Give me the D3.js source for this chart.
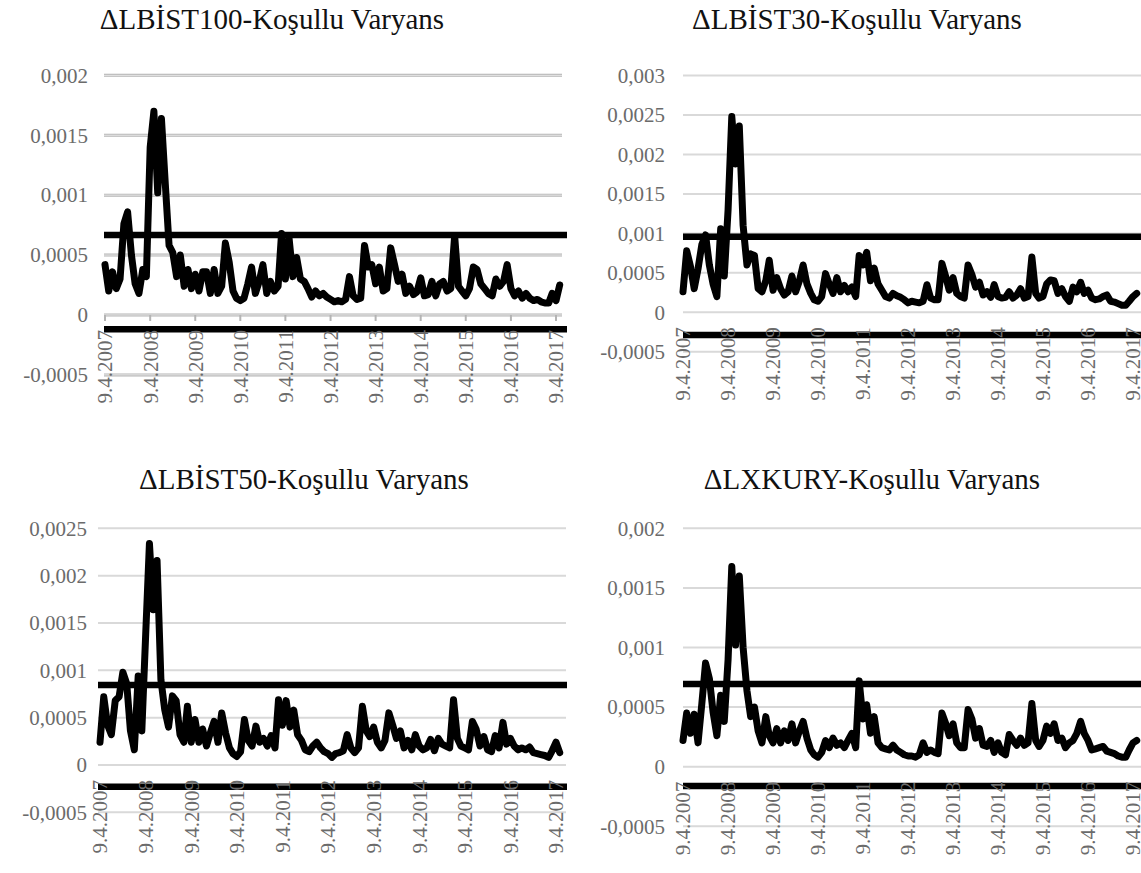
<!DOCTYPE html>
<html>
<head>
<meta charset="utf-8">
<script src="https://cdn.jsdelivr.net/npm/d3@7"></script>
<style>
  html, body { margin: 0; padding: 0; background: #fff; }
  svg { display: block; }
</style>
</head>
<body>
<svg id="chart" width="1141" height="873"></svg>
<script>
'use strict';

// ── data (values in units of 1e-4, one point per month from 9.4.2007) ──
const UNIT = 1e-4;
const START = new Date(2007, 3, 9);

const TICK_YEARS = [2007, 2008, 2009, 2010, 2011, 2012, 2013, 2014, 2015, 2016, 2017];
const TICK_LABELS = ['9.4.2007', '9.4.2008', '9.4.2009', '9.4.2010', '9.4.2011', '9.4.2012',
  '9.4.2013', '9.4.2014', '9.4.2015', '9.4.2016', '9.4.2017'];

const TITLES = ['ΔLBİST100-Koşullu Varyans', 'ΔLBİST30-Koşullu Varyans',
  'ΔLBİST50-Koşullu Varyans', 'ΔLXKURY-Koşullu Varyans'];

const bist100 = [
  4.2, 2.0, 3.6, 2.2, 3.0, 7.6, 8.6, 5.0, 2.6, 1.8, 3.8, 3.2, 14.0, 17.0, 10.2, 16.4,
  11.0, 5.8, 5.2, 3.2, 5.0, 2.4, 3.8, 2.2, 3.4, 2.0, 3.6, 3.6, 1.8, 3.8, 1.8, 2.4,
  6.0, 4.4, 2.0, 1.4, 1.2, 1.4, 2.6, 4.0, 1.8, 2.8, 4.2, 1.8, 2.8, 2.0, 2.4, 6.8,
  3.0, 6.4, 3.2, 4.8, 3.0, 2.8, 2.2, 1.5, 2.0, 1.6, 1.8, 1.5, 1.3, 1.1, 1.2, 1.1,
  1.3, 3.2, 1.6, 1.3, 1.4, 5.8, 4.0, 4.2, 2.6, 4.0, 2.0, 2.2, 5.6, 4.2, 2.8, 3.4,
  1.8, 2.4, 1.7, 1.9, 3.1, 1.6, 1.7, 2.8, 1.6, 2.6, 2.8, 2.0, 2.2, 6.6, 2.4, 2.0,
  1.6, 2.2, 4.0, 3.8, 2.6, 2.2, 1.8, 1.6, 3.0, 2.4, 2.8, 4.2, 2.2, 1.6, 2.0, 1.4,
  1.8, 1.4, 1.2, 1.3, 1.1, 1.0, 1.0, 1.8, 1.2, 2.5
];
const bist30 = [
  2.6, 7.8, 5.8, 3.0, 5.5, 8.6, 9.8, 6.0, 3.6, 2.0, 10.6, 4.6, 13.0, 24.8, 18.8, 23.6,
  11.0, 6.0, 7.4, 7.2, 3.0, 2.6, 4.0, 6.6, 2.8, 4.4, 3.0, 2.2, 2.6, 4.6, 2.6, 4.0,
  6.0, 3.6, 2.4, 1.6, 1.4, 2.0, 4.9, 3.6, 2.4, 4.4, 2.6, 3.4, 2.6, 3.2, 2.0, 7.2,
  6.0, 7.6, 4.0, 5.6, 3.6, 2.8, 2.0, 1.8, 2.4, 2.1, 1.9, 1.6, 1.2, 1.4, 1.3, 1.2,
  1.4, 3.5, 1.8, 1.6, 1.6, 6.2, 4.5, 2.8, 4.4, 2.4, 2.0, 1.8, 6.0, 4.8, 3.2, 3.8,
  2.2, 2.6, 1.9, 3.5, 2.0, 1.8, 1.9, 2.6, 1.8, 2.2, 3.0, 1.8, 2.0, 7.0, 2.4, 1.8,
  2.0, 3.6, 4.1, 4.0, 2.4, 3.0, 2.0, 1.4, 3.2, 2.6, 3.8, 2.4, 2.8, 1.8, 1.6, 1.7,
  2.0, 2.2, 1.4, 1.3, 1.1, 0.9, 0.9, 1.4, 2.0, 2.4
];
const bist50 = [
  2.4, 7.2, 4.2, 3.2, 6.8, 7.2, 9.8, 8.6, 3.6, 1.6, 9.4, 3.6, 13.8, 23.4, 16.4, 21.6,
  9.0, 5.8, 4.0, 7.3, 6.8, 3.2, 2.4, 6.2, 2.4, 4.8, 2.4, 3.8, 2.0, 3.4, 4.6, 2.4,
  5.5, 3.4, 1.8, 1.2, 0.9, 1.4, 4.8, 2.6, 2.0, 4.1, 2.4, 2.8, 2.0, 3.1, 1.8, 6.9,
  4.2, 6.8, 4.0, 5.8, 3.2, 2.6, 1.6, 1.4, 2.0, 2.4, 1.8, 1.4, 1.2, 0.8, 1.2, 1.3,
  1.5, 3.2, 1.8, 1.3, 1.8, 6.2, 3.6, 3.0, 4.0, 2.4, 1.8, 2.6, 5.5, 4.2, 2.8, 3.6,
  1.8, 2.6, 1.6, 3.2, 2.0, 1.6, 1.8, 2.7, 1.5, 2.8, 2.2, 2.0, 1.8, 6.9, 2.8, 2.0,
  1.8, 1.6, 4.6, 3.8, 2.0, 3.0, 1.6, 1.4, 3.1, 1.8, 4.5, 2.2, 2.8, 2.0, 1.6, 1.8,
  1.6, 1.9, 1.3, 1.2, 1.1, 1.0, 0.8, 1.5, 2.4, 1.3
];
const xkury = [
  2.2, 4.5, 2.8, 4.4, 2.0, 5.3, 8.7, 7.4, 4.6, 2.6, 6.0, 3.8, 9.0, 16.8, 10.2, 16.0,
  10.0, 6.4, 4.2, 5.0, 3.0, 2.0, 4.2, 2.6, 2.0, 3.2, 2.0, 3.0, 2.2, 3.6, 2.0, 3.0,
  3.8, 2.4, 1.4, 1.0, 0.8, 1.2, 2.2, 1.6, 2.4, 1.8, 2.0, 1.6, 2.2, 2.8, 1.6, 7.2,
  4.0, 5.2, 2.8, 4.2, 2.0, 1.6, 1.5, 1.4, 1.8, 1.4, 1.2, 1.0, 0.9, 0.9, 0.8, 1.0,
  2.0, 1.2, 1.4, 1.2, 1.1, 4.5, 3.6, 2.6, 3.6, 2.0, 1.6, 1.6, 4.8, 4.0, 2.4, 3.2,
  1.8, 1.7, 2.2, 1.2, 2.0, 1.2, 1.0, 2.7, 2.2, 1.8, 2.4, 1.8, 2.0, 5.3, 2.2, 1.7,
  2.2, 3.4, 2.8, 3.6, 2.2, 2.4, 1.6, 2.0, 2.2, 2.8, 3.8, 2.8, 2.2, 1.4, 1.5, 1.6,
  1.7, 1.3, 1.2, 1.1, 0.9, 0.8, 0.8, 1.4, 2.0, 2.2
];

// threshold bands (upper, lower), units of 1e-4
const UPPER = [6.68, 9.57, 8.46, 6.94];
const LOWER = [-1.19, -2.87, -2.29, -1.62];

// y axis extents
const Y_MAX = [0.002, 0.003, 0.0025, 0.002];
const Y_MIN = [-0.0005, -0.0005, -0.0005, -0.0005];
const Y_STEP = 0.0005;

const SERIES = [bist100, bist30, bist50, xkury];

// ── layout per panel ──
const PANELS = [
  { titleX: 272, titleY: 29, x0: 105, x1: 556, gridL: 104, gridR: 562, yTop: 75.3, yBot: 374.9,
    labelR: 88, clip: [0, 0, 567, 404], framed: true },
  { titleX: 857, titleY: 29, x0: 683, x1: 1133, gridL: 683, gridR: 1141, yTop: 75.5, yBot: 351.8,
    labelR: 665, clip: [570, 0, 571, 420], framed: false },
  { titleX: 304, titleY: 489, x0: 100, x1: 556, gridL: 98, gridR: 566, yTop: 528.3, yBot: 812.3,
    labelR: 87, clip: [0, 450, 567, 423], framed: false },
  { titleX: 872, titleY: 489, x0: 683, x1: 1133, gridL: 683, gridR: 1141, yTop: 528.3, yBot: 826.3,
    labelR: 665, clip: [570, 450, 571, 423], framed: false },
];

const fmt = d3.formatLocale({ decimal: ',', thousands: '.', grouping: [3], currency: ['', ''], minus: '-' })
  .format('~g');

const svg = d3.select('#chart');
const SERIF = '"Liberation Serif", "Times New Roman", serif';

PANELS.forEach((p, i) => {
  const clipId = 'clip' + i;
  svg.append('clipPath').attr('id', clipId)
    .append('rect')
    .attr('x', p.clip[0]).attr('y', p.clip[1])
    .attr('width', p.clip[2]).attr('height', p.clip[3]);

  const g = svg.append('g').attr('clip-path', `url(#${clipId})`);

  const x = d3.scaleTime()
    .domain([new Date(2007, 3, 9), new Date(2017, 3, 9)])
    .range([p.x0, p.x1]);
  const y = d3.scaleLinear()
    .domain([Y_MIN[i], Y_MAX[i]])
    .range([p.yBot, p.yTop]);

  const ticks = d3.range(Y_MIN[i], Y_MAX[i] + Y_STEP / 2, Y_STEP).map(v => +v.toFixed(6));
  const tickDates = TICK_YEARS.map(yr => new Date(yr, 3, 9));

  // gridlines
  const grid = g.append('g');
  if (p.framed) {
    grid.selectAll('line.outer').data(ticks).join('line')
      .attr('class', 'outer')
      .attr('x1', p.gridL).attr('x2', p.gridR)
      .attr('y1', d => y(d)).attr('y2', d => y(d))
      .attr('stroke', '#b4b4b4').attr('stroke-width', 3);
    grid.selectAll('line.inner').data(ticks).join('line')
      .attr('class', 'inner')
      .attr('x1', p.gridL).attr('x2', p.gridR)
      .attr('y1', d => y(d)).attr('y2', d => y(d))
      .attr('stroke', '#ececec').attr('stroke-width', 1);
    // category tick marks hanging from the zero line
    grid.selectAll('line.tick').data(tickDates).join('line')
      .attr('class', 'tick')
      .attr('x1', d => x(d)).attr('x2', d => x(d))
      .attr('y1', y(0)).attr('y2', y(0) + 6)
      .attr('stroke', '#b4b4b4').attr('stroke-width', 2);
  } else {
    grid.selectAll('line').data(ticks).join('line')
      .attr('x1', p.gridL).attr('x2', p.gridR)
      .attr('y1', d => y(d)).attr('y2', d => y(d))
      .attr('stroke', '#d9d9d9').attr('stroke-width', 2);
  }

  // y tick labels
  svg.append('g').selectAll('text').data(ticks).join('text')
    .attr('x', p.labelR)
    .attr('y', d => y(d))
    .attr('dy', '0.35em')
    .attr('text-anchor', 'end')
    .attr('font-family', SERIF)
    .attr('font-size', 21)
    .attr('fill', '#6b6b6b')
    .text(d => fmt(d));

  // thresholds
  [UPPER[i], LOWER[i]].forEach(v => {
    g.append('line')
      .attr('x1', p.gridL).attr('x2', p.gridR + 6)
      .attr('y1', y(v * UNIT)).attr('y2', y(v * UNIT))
      .attr('stroke', '#000').attr('stroke-width', 6.5);
  });

  // x tick labels (rotated, reading upward)
  g.append('g').selectAll('text').data(tickDates).join('text')
    .attr('transform', d => `translate(${x(d)},${y(0) + 15}) rotate(-90)`)
    .attr('dy', '0.35em')
    .attr('text-anchor', 'end')
    .attr('font-family', SERIF)
    .attr('font-size', 21)
    .attr('fill', '#6b6b6b')
    .text((d, k) => TICK_LABELS[k]);

  // series
  const pts = SERIES[i].map((v, k) => ({ date: d3.timeMonth.offset(START, k), v: v * UNIT }));
  g.append('path')
    .datum(pts)
    .attr('fill', 'none')
    .attr('stroke', '#000')
    .attr('stroke-width', 7)
    .attr('stroke-linejoin', 'round')
    .attr('stroke-linecap', 'round')
    .attr('d', d3.line().x(d => x(d.date)).y(d => y(d.v)));

  // title
  svg.append('text')
    .attr('x', p.titleX)
    .attr('y', p.titleY)
    .attr('text-anchor', 'middle')
    .attr('font-family', SERIF)
    .attr('font-size', 29)
    .attr('fill', '#111')
    .text(TITLES[i]);
});
</script>
</body>
</html>
